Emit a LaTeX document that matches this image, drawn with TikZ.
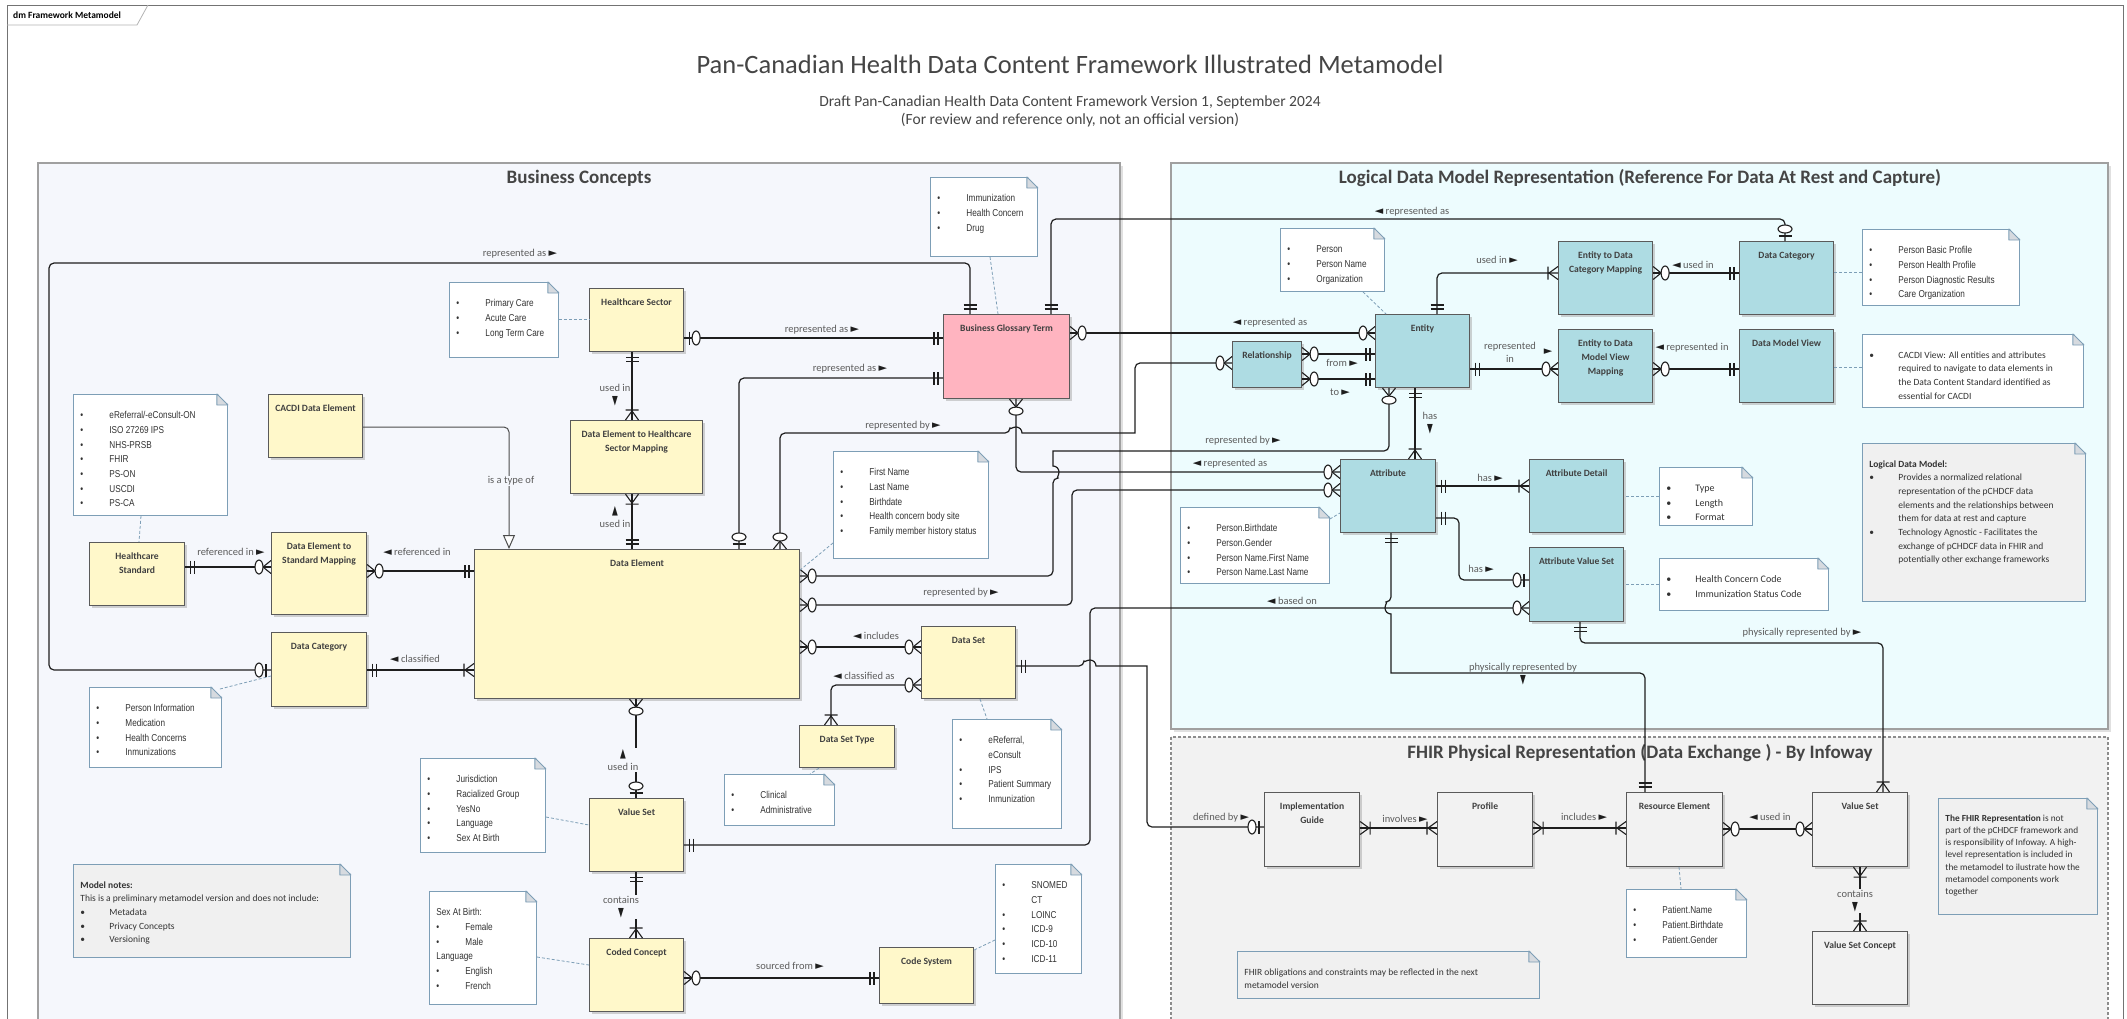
\documentclass[tikz,border=0pt]{standalone}
\usepackage{fontspec}
\setmainfont{Carlito}
\newfontfamily\narrowf{Liberation Sans}[FakeStretch=0.82]
\newfontfamily\symf{DejaVu Sans}
\usetikzlibrary{arrows.meta,shadows}

\definecolor{bizbg}{HTML}{F5F7FC}
\definecolor{logbg}{HTML}{EDFCFE}
\definecolor{fhirbg}{HTML}{F2F2F2}
\definecolor{graynote}{HTML}{F0F0F0}
\definecolor{panelc}{HTML}{A0A0A0}
\definecolor{yelbox}{HTML}{FFF8CA}
\definecolor{pinkbox}{HTML}{FFB4C0}
\definecolor{tealbox}{HTML}{AEDCE3}
\definecolor{graybox}{HTML}{F2F2F2}
\definecolor{boxline}{HTML}{5A5A5A}
\definecolor{notec}{HTML}{7D9EB6}
\definecolor{foldc}{HTML}{D6DADF}
\definecolor{linec}{HTML}{1E1E1E}
\definecolor{lblc}{HTML}{5C5C5C}
\definecolor{namec}{HTML}{404040}
\definecolor{titlec}{HTML}{454545}

% crow's foot ends
\pgfdeclarearrow{
  name = erone,
  setup code = {\pgfarrowssettipend{0pt}\pgfarrowssetlineend{0pt}\pgfarrowssetbackend{-10pt}},
  drawing code = {\pgfsetlinewidth{1.1pt}\pgfsetdash{}{0pt}%
    \pgfpathmoveto{\pgfqpoint{-5pt}{-6.5pt}}\pgfpathlineto{\pgfqpoint{-5pt}{6.5pt}}%
    \pgfpathmoveto{\pgfqpoint{-9pt}{-6.5pt}}\pgfpathlineto{\pgfqpoint{-9pt}{6.5pt}}%
    \pgfusepathqstroke}
}
\pgfdeclarearrow{
  name = ermany,
  setup code = {\pgfarrowssettipend{0pt}\pgfarrowssetlineend{0pt}\pgfarrowssetbackend{-10pt}},
  drawing code = {\pgfsetlinewidth{1.1pt}\pgfsetdash{}{0pt}%
    \pgfpathmoveto{\pgfqpoint{0pt}{-6.5pt}}\pgfpathlineto{\pgfqpoint{-9pt}{0pt}}\pgfpathlineto{\pgfqpoint{0pt}{6.5pt}}%
    \pgfpathmoveto{\pgfqpoint{-10pt}{-6.5pt}}\pgfpathlineto{\pgfqpoint{-10pt}{6.5pt}}%
    \pgfusepathqstroke}
}
\pgfdeclarearrow{
  name = ezmany,
  setup code = {\pgfarrowssettipend{0pt}\pgfarrowssetlineend{0pt}\pgfarrowssetbackend{-16pt}},
  drawing code = {\pgfsetlinewidth{1.1pt}\pgfsetdash{}{0pt}%
    \pgfpathmoveto{\pgfqpoint{0pt}{-6.5pt}}\pgfpathlineto{\pgfqpoint{-8pt}{0pt}}\pgfpathlineto{\pgfqpoint{0pt}{6.5pt}}%
    \pgfusepathqstroke
    \pgfpathellipse{\pgfqpoint{-12pt}{0pt}}{\pgfqpoint{4pt}{0pt}}{\pgfqpoint{0pt}{7pt}}%
    \pgfsetfillcolor{white}\pgfusepathqfillstroke}
}
\pgfdeclarearrow{
  name = ezone,
  setup code = {\pgfarrowssettipend{0pt}\pgfarrowssetlineend{0pt}\pgfarrowssetbackend{-16pt}},
  drawing code = {\pgfsetlinewidth{1.1pt}\pgfsetdash{}{0pt}%
    \pgfpathmoveto{\pgfqpoint{-5pt}{-6.5pt}}\pgfpathlineto{\pgfqpoint{-5pt}{6.5pt}}%
    \pgfusepathqstroke
    \pgfpathellipse{\pgfqpoint{-12pt}{0pt}}{\pgfqpoint{4pt}{0pt}}{\pgfqpoint{0pt}{7pt}}%
    \pgfsetfillcolor{white}\pgfusepathqfillstroke}
}

\newcommand{\notebox}[3]{\parbox[t][#2pt][t]{#1pt}{\raggedright\leftskip=7pt\relax\vspace*{14pt}#3}}
\newcommand{\bitem}{\par\noindent\hangindent=29pt\hangafter=1\makebox[29pt][l]{\strut\textbullet}\ignorespaces}
\newcommand{\nitem}{\par\noindent\strut\ignorespaces}
\newcommand{\pR}{\ {\color{linec}\symf\fontsize{11}{11}\selectfont ►}}
\newcommand{\pL}{{\color{linec}\symf\fontsize{11}{11}\selectfont ◄}\ }
\newcommand{\pD}{{\color{linec}\symf\fontsize{10}{10}\selectfont\scalebox{0.75}[1.25]{▼}}}
\newcommand{\pU}{{\color{linec}\symf\fontsize{10}{10}\selectfont\scalebox{0.75}[1.25]{▲}}}

\begin{document}
\begin{tikzpicture}[x=1pt, y=-1pt,
  erbox/.style={draw=boxline, line width=1.1pt, anchor=north west, inner sep=0pt,
    drop shadow={shadow xshift=2.5pt, shadow yshift=-2.5pt, fill=black!35, opacity=.5}},
  ybox/.style={erbox, fill=yelbox},
  pbox/.style={erbox, fill=pinkbox},
  tbox/.style={erbox, fill=tealbox},
  gbox/.style={erbox, fill=graybox},
  sz/.style 2 args={minimum width=#1pt, minimum height=#2pt},
  bname/.style={anchor=north, yshift=-11pt, inner sep=0pt, align=center, text=namec,
    font=\bfseries\fontsize{9.6}{13.7}\selectfont},
  note/.style={draw=notec, line width=0.9pt, fill=white, anchor=north west, inner sep=0pt,
    text=black!80, font=\narrowf\fontsize{10}{14.7}\selectfont},
  cnote/.style={note, font=\fontsize{9.5}{13.7}\selectfont},
  cnoteb/.style={note, font=\fontsize{10}{14.5}\selectfont},
  gnote/.style={cnote, fill=graynote},
  panel/.style={draw=panelc, line width=1.2pt,
    drop shadow={shadow xshift=3pt, shadow yshift=-3pt, fill=black!30, opacity=.4}},
  ptitle/.style={text=titlec, font=\bfseries\fontsize{19}{22}\selectfont},
  er/.style={draw=linec, line width=1.2pt, rounded corners=5pt},
  isa/.style={draw=black!70, line width=1pt, rounded corners=5pt,
    -{Triangle[fill=white, length=14pt, width=12pt]}},
  link/.style={draw=notec, line width=0.8pt, dash pattern=on 3pt off 2pt},
  lbl/.style={inner sep=1pt, text=lblc, align=center, font=\fontsize{10.5}{13}\selectfont},
  bglbl/.style={lbl, fill=bizbg},
]
\clip (0,0) rectangle (2127,1018);
\useasboundingbox (0,0) rectangle (2127,1018);

% frame and headings
\draw[black!55, line width=1pt] (7,1030) -- (7,5) -- (2123,5) -- (2123,1030);
\draw[black!30, line width=0.8pt] (7,25) -- (137,25) -- (148,5);
\node[anchor=west, inner sep=0pt, font=\bfseries\fontsize{9.5}{11}\selectfont] (tab) at (13,15) {dm Framework Metamodel};
\node[text=titlec, font=\fontsize{26.5}{30}\selectfont] (title) at (1070,64) {Pan-Canadian Health Data Content Framework Illustrated Metamodel};
\node[text=titlec, align=center, font=\fontsize{15.5}{18}\selectfont] (subtitle) at (1070,111) {Draft Pan-Canadian Health Data Content Framework Version 1, September 2024\\(For review and reference only, not an official version)};

% panels
\draw[panel, fill=bizbg] (38,163) rectangle (1120,1030);
\draw[panel, fill=logbg] (1171,163) rectangle (2108,729);
\draw[draw=black!45, line width=1.1pt, dash pattern=on 3pt off 2pt, fill=fhirbg] (1171,737) rectangle (2108,1030);
\node[ptitle] (tbiz) at (579,178) {Business Concepts};
\node[ptitle] (tlog) at (1640,178) {Logical Data Model Representation (Reference For Data At Rest and Capture)};
\node[ptitle] (tfhir) at (1640,753) {FHIR Physical Representation (Data Exchange ) - By Infoway};

% business concepts
\node[ybox, sz={94}{63}, label={[bname]north:Healthcare Sector}] (hsect) at (589,288) {};
\node[ybox, sz={132}{73}, label={[bname]north:{Data Element to Healthcare\\Sector Mapping}}] (dehs) at (570,420) {};
\node[pbox, sz={126}{84}, label={[bname]north:Business Glossary Term}] (bgt) at (943,314) {};
\node[ybox, sz={325}{149}, label={[bname]north:Data Element}] (delem) at (474,549) {};
\node[ybox, sz={94}{72}, label={[bname]north:Data Set}] (dset) at (921,626) {};
\node[ybox, sz={95}{42}, label={[bname]north:Data Set Type}] (dstype) at (799,725) {};
\node[ybox, sz={94}{73}, label={[bname]north:Value Set}] (vset) at (589,798) {};
\node[ybox, sz={94}{73}, label={[bname]north:Coded Concept}] (ccon) at (589,938) {};
\node[ybox, sz={94}{56}, label={[bname]north:Code System}] (csys) at (879,947) {};
\node[ybox, sz={95}{74}, label={[bname]north:Data Category}] (dcat) at (271,632) {};
\node[ybox, sz={95}{63}, label={[bname]north:{Healthcare\\Standard}}] (hstd) at (89,542) {};
\node[ybox, sz={95}{82}, label={[bname]north:{Data Element to\\Standard Mapping}}] (destd) at (271,532) {};
\node[ybox, sz={94}{63}, label={[bname]north:CACDI Data Element}] (cacdi) at (268,394) {};

% logical data model
\node[tbox, sz={94}{73}, label={[bname]north:Entity}] (entity) at (1375,314) {};
\node[tbox, sz={69}{46}, label={[bname]north:Relationship}] (rel) at (1232,341) {};
\node[tbox, sz={94}{73}, label={[bname]north:{Entity to Data\\Category Mapping}}] (edcm) at (1558,241) {};
\node[tbox, sz={94}{73}, label={[bname]north:{Entity to Data\\Model View\\Mapping}}] (edmv) at (1558,329) {};
\node[tbox, sz={95}{73}, label={[bname]north:Attribute}] (attr) at (1340,459) {};
\node[tbox, sz={94}{73}, label={[bname]north:Attribute Detail}] (attrd) at (1529,459) {};
\node[tbox, sz={94}{74}, label={[bname]north:Attribute Value Set}] (avs) at (1529,547) {};
\node[tbox, sz={94}{73}, label={[bname]north:Data Category}] (dcatl) at (1739,241) {};
\node[tbox, sz={94}{73}, label={[bname]north:Data Model View}] (dmv) at (1739,329) {};

% fhir
\node[gbox, sz={95}{74}, label={[bname]north:{Implementation\\Guide}}] (ig) at (1264,792) {};
\node[gbox, sz={95}{74}, label={[bname]north:Profile}] (prof) at (1437,792) {};
\node[gbox, sz={96}{74}, label={[bname]north:Resource Element}] (rese) at (1626,792) {};
\node[gbox, sz={95}{74}, label={[bname]north:Value Set}] (fvs) at (1812,792) {};
\node[gbox, sz={95}{73}, label={[bname]north:Value Set Concept}] (vsc) at (1812,931) {};

% notes
\node[note] (nprim) at (449,282) {\notebox{109}{75}{\bitem Primary Care \bitem Acute Care \bitem Long Term Care}};
\node[note] (nstd) at (73,394) {\notebox{154}{121}{\bitem eReferral/-eConsult-ON \bitem ISO 27269 IPS \bitem NHS-PRSB \bitem FHIR \bitem PS-ON \bitem USCDI \bitem PS-CA}};
\node[note] (nimm) at (930,177) {\notebox{107}{79}{\bitem Immunization \bitem Health Concern \bitem Drug}};
\node[note] (nfirst) at (833,451) {\notebox{155}{107}{\bitem First Name \bitem Last Name \bitem Birthdate \bitem Health concern body site \bitem Family member history status}};
\node[note] (npinf) at (89,687) {\notebox{132}{80}{\bitem Person Information \bitem Medication \bitem Health Concerns \bitem Inmunizations}};
\node[note] (njur) at (420,758) {\notebox{125}{94}{\bitem Jurisdiction \bitem Racialized Group \bitem YesNo \bitem Language \bitem Sex At Birth}};
\node[note] (nsex) at (429,891) {\notebox{107}{113}{\nitem Sex At Birth: \bitem Female \bitem Male \nitem Language \bitem English \bitem French}};
\node[note] (nclin) at (724,774) {\notebox{110}{51}{\bitem Clinical \bitem Administrative}};
\node[note] (nerf) at (952,719) {\notebox{109}{109}{\bitem eReferral,\newline eConsult \bitem IPS \bitem Patient Summary \bitem Inmunization}};
\node[note] (nsnom) at (995,864) {\notebox{86}{109}{\bitem SNOMED\newline CT \bitem LOINC \bitem ICD-9 \bitem ICD-10 \bitem ICD-11}};
\node[gnote] (nmodel) at (73,864) {\notebox{277}{93}{\nitem\textbf{Model notes:} \nitem This is a preliminary metamodel version and does not include: \bitem Metadata \bitem Privacy Concepts \bitem Versioning}};
\node[note] (nperson) at (1280,228) {\notebox{104}{63}{\bitem Person \bitem Person Name \bitem Organization}};
\node[note] (nattr) at (1180,507) {\notebox{149}{76}{\bitem Person.Birthdate \bitem Person.Gender \bitem Person Name.First Name \bitem Person Name.Last Name}};
\node[note] (nprof) at (1862,229) {\notebox{157}{76}{\bitem Person Basic Profile \bitem Person Health Profile \bitem Person Diagnostic Results \bitem Care Organization}};
\node[cnote] (ncacdi) at (1862,334) {\notebox{221}{73}{\bitem CACDI View: All entities and attributes\newline required to navigate to data elements in\newline the Data Content Standard identified as\newline essential for CACDI}};
\node[gnote] (nldm) at (1862,443) {\notebox{223}{158}{\nitem\textbf{Logical Data Model:} \bitem Provides a normalized relational\newline representation of the pCHDCF data\newline elements and the relationships between\newline them for data at rest and capture \bitem Technology Agnostic - Facilitates the\newline exchange of pCHDCF data in FHIR and\newline potentially other exchange frameworks}};
\node[cnoteb] (ntype) at (1659,467) {\notebox{93}{58}{\bitem Type \bitem Length \bitem Format}};
\node[cnoteb] (nhcc) at (1659,558) {\notebox{169}{52}{\bitem Health Concern Code \bitem Immunization Status Code}};
\node[note] (npat) at (1626,889) {\notebox{120}{68}{\bitem Patient.Name \bitem Patient.Birthdate \bitem Patient.Gender}};
\node[gnote] (nfhirob) at (1237,951) {\notebox{302}{47}{\nitem FHIR obligations and constraints may be reflected in the next\newline metamodel version}};
\node[gnote, font=\fontsize{9.3}{12.3}\selectfont] (nfhirrep) at (1938,798) {\notebox{159}{116}{\nitem\textbf{The FHIR Representation} is not\newline part of the pCHDCF framework and\newline is responsibility of Infoway. A high-\newline level representation is included in\newline the metamodel to ilustrate how the\newline metamodel components work\newline together}};

% folded corners
\foreach \n/\bg in {nprim/bizbg, nstd/bizbg, nimm/bizbg, nfirst/bizbg, npinf/bizbg, njur/bizbg, nsex/bizbg, nclin/bizbg, nerf/bizbg, nsnom/bizbg, nmodel/bizbg, nperson/logbg, nattr/logbg, nprof/logbg, ncacdi/logbg, nldm/logbg, ntype/logbg, nhcc/logbg, npat/fhirbg, nfhirob/fhirbg, nfhirrep/fhirbg}{
  \fill[\bg] ([xshift=-11pt,yshift=1pt]\n.north east) -- ([xshift=1pt,yshift=1pt]\n.north east) -- ([xshift=1pt,yshift=-11pt]\n.north east) -- cycle;
  \filldraw[fill=foldc, draw=notec, line width=0.9pt, line join=round] ([xshift=-11pt]\n.north east) -- ([yshift=-11pt]\n.north east) -- ([xshift=-11pt,yshift=-11pt]\n.north east) -- cycle;
}

% connectors
\draw[er, ezone-erone] (dcat.west |- 0,670) -- (49,670) -- (49,263) -- (970,263) -- (bgt.north -| 970,0);
\draw[er, ezone-erone] (hsect.east |- 0,338) -- (bgt.west |- 0,338);
\draw[er, erone-ermany] (hsect.south -| 632,0) -- (dehs.north -| 632,0);
\draw[er, ermany-erone] (dehs.south -| 632,0) -- (delem.north -| 632,0);
\draw[er, erone-ezone] (bgt.west |- 0,378) -- (739,378) -- (delem.north -| 739,0);
\draw[er, ezmany-ezmany] (delem.north -| 780,0) -- (780,433) -- (1010,433) [sharp corners] arc[start angle=180, end angle=0, radius=6pt] -- (1135,433) [rounded corners=5pt] -- (1135,363) -- (rel.west |- 0,363);
\draw[er, ezmany-ezmany] (delem.east |- 0,576) -- (1053,576) -- (1053,478) [sharp corners] arc[start angle=-90, end angle=90, radius=6pt] -- (1053,451) [rounded corners=5pt] -- (1389,451) -- (entity.south -| 1389,0);
\draw[er, erone-ezone] (bgt.north -| 1051,0) -- (1051,219) -- (1785,219) -- (dcatl.north -| 1785,0);
\draw[er, ezmany-ezmany] (bgt.east |- 0,333) -- (entity.west |- 0,333);
\draw[er, ezmany-ezmany] (bgt.south -| 1016,0) -- (1016,472) -- (attr.west |- 0,472);
\draw[er, ezmany-ezmany] (delem.east |- 0,605) -- (1072,605) -- (1072,490) -- (attr.west |- 0,490);
\draw[er, ezmany-ezmany] (delem.east |- 0,647) -- (dset.west |- 0,647);
\draw[er, ezmany-ermany] (dset.west |- 0,685) -- (831,685) -- (dstype.north -| 831,0);
\draw[er, erone-ezone] (dset.east |- 0,666) -- (1084,666) [sharp corners] arc[start angle=180, end angle=0, radius=6pt] -- (1147,666) [rounded corners=5pt] -- (1147,827) -- (ig.west |- 0,827);
\draw[er, erone-ezmany] (vset.east |- 0,845) -- (1090,845) -- (1090,608) -- (avs.west |- 0,608);
\draw[er, erone-erone] (attr.south -| 1391,0) -- (1391,602) [sharp corners] arc[start angle=90, end angle=270, radius=6pt] -- (1391,673) [rounded corners=5pt] -- (1645,673) -- (rese.north -| 1645,0);
\draw[er, erone-ermany] (avs.south -| 1580,0) -- (1580,643) -- (1883,643) -- (fvs.north -| 1883,0);
\draw[er, erone-ermany] (entity.north -| 1437,0) -- (1437,273) -- (edcm.west |- 0,273);
\draw[er, ezmany-erone] (edcm.east |- 0,273) -- (dcatl.west |- 0,273);
\draw[er, erone-ezmany] (entity.east |- 0,369) -- (edmv.west |- 0,369);
\draw[er, ezmany-erone] (edmv.east |- 0,369) -- (dmv.west |- 0,369);
\draw[er, ezmany-erone] (rel.east |- 0,354) -- (entity.west |- 0,354);
\draw[er, ezmany-erone] (rel.east |- 0,379) -- (entity.west |- 0,379);
\draw[er, erone-ermany] (entity.south -| 1415,0) -- (attr.north -| 1415,0);
\draw[er, erone-ermany] (attr.east |- 0,486) -- (attrd.west |- 0,486);
\draw[er, erone-ezone] (attr.east |- 0,518) -- (1459,518) -- (1459,580) -- (avs.west |- 0,580);
\draw[er, ermany-ermany] (ig.east |- 0,828) -- (prof.west |- 0,828);
\draw[er, ermany-ermany] (prof.east |- 0,828) -- (rese.west |- 0,828);
\draw[er, ezmany-ezmany] (rese.east |- 0,829) -- (fvs.west |- 0,829);
\draw[er, ermany-ermany] (fvs.south -| 1860,0) -- (vsc.north -| 1860,0);
\draw[er, ezone-ezmany] (vset.north -| 636,0) -- (delem.south -| 636,0);
\draw[er, erone-ermany] (vset.south -| 636,0) -- (ccon.north -| 636,0);
\draw[er, ezmany-erone] (ccon.east |- 0,978) -- (csys.west |- 0,978);
\draw[er, erone-ezmany] (hstd.east |- 0,567) -- (destd.west |- 0,567);
\draw[er, ezmany-erone] (destd.east |- 0,571) -- (delem.west |- 0,571);
\draw[isa] (cacdi.east |- 0,427) -- (509,427) -- (delem.north -| 509,0);
\draw[er, erone-ermany] (dcat.east |- 0,670) -- (delem.west |- 0,670);

% note links
\draw[link] (nprim.east |- 0,319) -- (hsect.west |- 0,319);
\draw[link] (nstd.south -| 141,0) -- (hstd.north -| 139,0);
\draw[link] (nimm.south -| 990,0) -- (bgt.north -| 998,0);
\draw[link] (nfirst.west |- 0,543) -- (delem.east |- 0,570);
\draw[link] ([xshift=-2pt,yshift=-2pt]npinf.north east) -- (dcat.west |- 0,676);
\draw[link] (njur.east |- 0,817) -- (vset.west |- 0,825);
\draw[link] (nsex.east |- 0,957) -- (ccon.west |- 0,965);
\draw[link] (dstype.south -| 819,0) -- (nclin.north -| 810,0);
\draw[link] (dset.south -| 980,0) -- (nerf.north -| 987,0);
\draw[link] (nsnom.west |- 0,940) -- (csys.east |- 0,950);
\draw[link] (nperson.south -| 1363,0) -- (entity.north -| 1386,0);
\draw[link] (nattr.east |- 0,519) -- (attr.west |- 0,513);
\draw[link] (ntype.west |- 0,496) -- (attrd.east |- 0,496);
\draw[link] (nhcc.west |- 0,584) -- (avs.east |- 0,584);
\draw[link] (dcatl.east |- 0,272) -- (nprof.west |- 0,272);
\draw[link] (dmv.east |- 0,367) -- (ncacdi.west |- 0,367);
\draw[link] (rese.south -| 1679,0) -- (npat.north -| 1681,0);

% connector labels
\node[lbl] (lb1) at (520,254) {represented as\pR};
\node[lbl] (lb2) at (822,330) {represented as\pR};
\node[lbl] (lb3) at (615,395) {used in\\\pD};
\node[lbl] (lb4) at (615,517) {\pU\\used in};
\node[lbl] (lb5) at (850,369) {represented as\pR};
\node[lbl] (lb6) at (903,426) {represented by\pR};
\node[lbl] (lb7) at (1243,441) {represented by\pR};
\node[lbl] (lb8) at (1412,212) {\pL represented as};
\node[lbl] (lb9) at (1270,323) {\pL represented as};
\node[lbl] (lb10) at (1230,464) {\pL represented as};
\node[lbl] (lb11) at (961,593) {represented by\pR};
\node[lbl] (lb12) at (876,636) {\pL includes};
\node[lbl] (lb13) at (864,676) {\pL classified as};
\node[lbl] (lb14) at (1221,818) {defined by\pR};
\node[lbl] (lb15) at (1292,601) {\pL based on};
\node[lbl] (lb16) at (1523,674) {physically represented by\\\pD};
\node[lbl] (lb17) at (1802,633) {physically represented by\pR};
\node[lbl] (lb18) at (1497,260) {used in\pR};
\node[lbl] (lb19) at (1693,265) {\pL used in};
\node[lbl] (lb20) at (1510,352) {represented\\in};
\node[lbl] (lb20b) at (1548,352) {{\color{linec}\symf\fontsize{11}{11}\selectfont ►}};
\node[lbl] (lb21) at (1692,348) {\pL represented in};
\node[lbl] (lb22) at (1342,363) {from\pR};
\node[lbl] (lb23) at (1340,392) {to\pR};
\node[lbl] (lb24) at (1430,423) {has\\\pD};
\node[lbl] (lb25) at (1490,478) {has\pR};
\node[lbl] (lb26) at (1481,569) {has\pR};
\node[lbl] (lb27) at (1405,819) {involves\pR};
\node[lbl] (lb28) at (1584,817) {includes\pR};
\node[lbl] (lb29) at (1770,817) {\pL used in};
\node[lbl, fill=fhirbg] (lb30) at (1855,901) {contains\\\pD};
\node[bglbl] (lb31) at (623,760) {\pU\\used in};
\node[bglbl] (lb32) at (621,907) {contains\\\pD};
\node[lbl] (lb33) at (790,966) {sourced from\pR};
\node[lbl] (lb34) at (231,552) {referenced in\pR};
\node[lbl] (lb35) at (417,552) {\pL referenced in};
\node[bglbl] (lb36) at (511,481) {is a type of};
\node[lbl] (lb37) at (415,659) {\pL classified};
\end{tikzpicture}
\end{document}
